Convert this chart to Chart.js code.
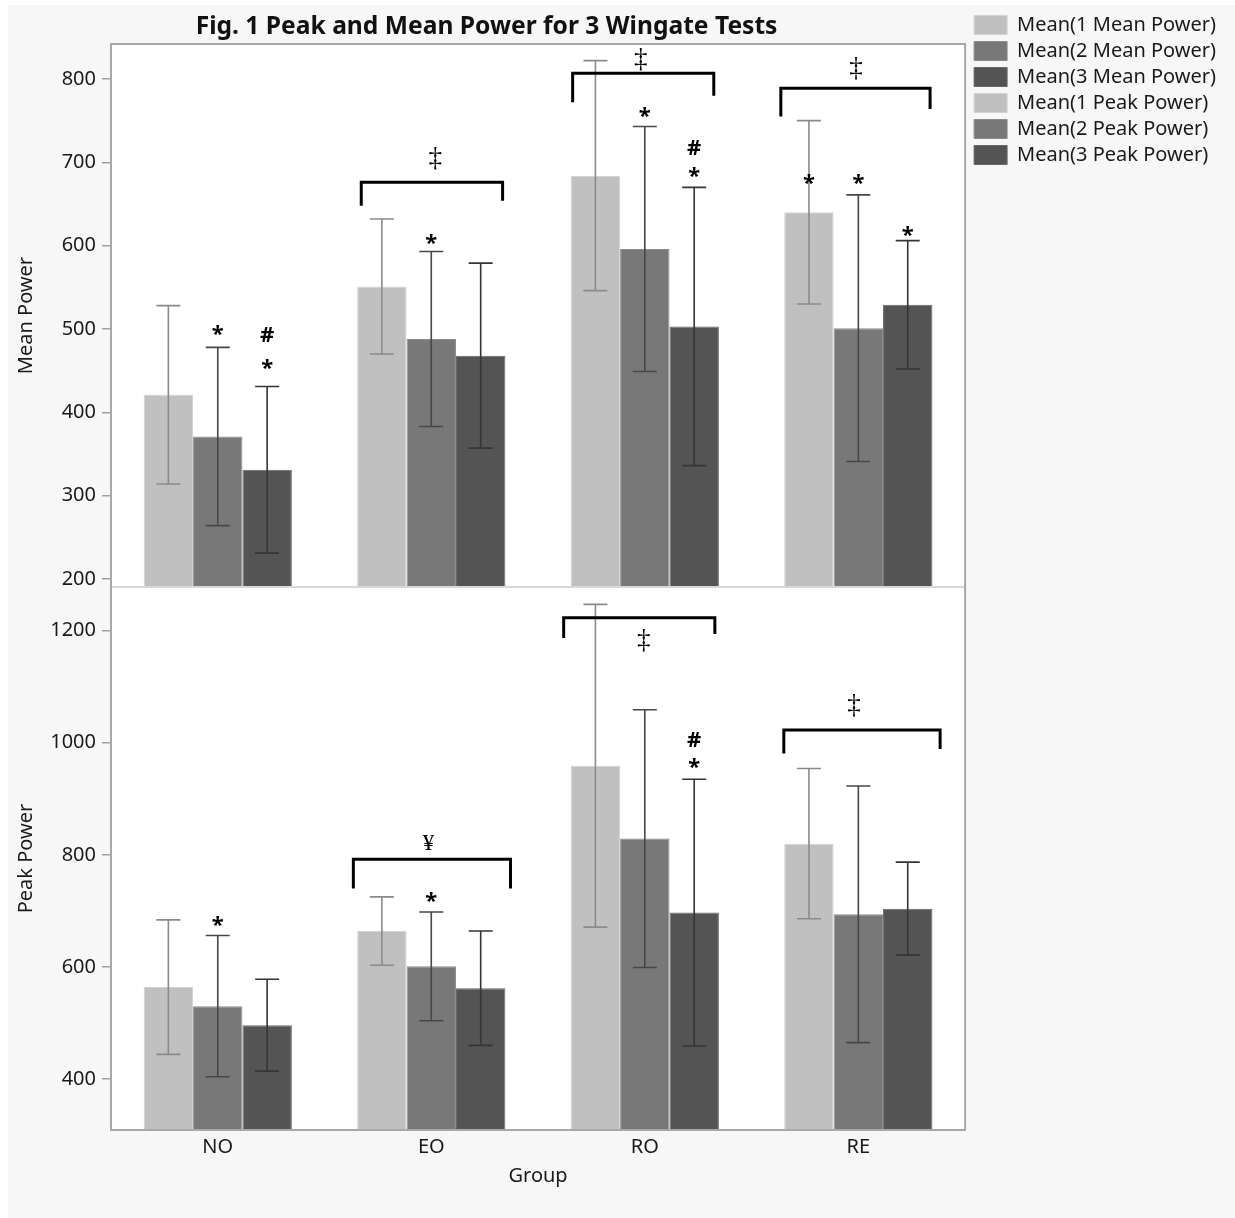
<!DOCTYPE html>
<html>
<head>
<meta charset="utf-8">
<script src="https://cdn.jsdelivr.net/npm/chart.js@4.4.1/dist/chart.umd.min.js"></script>
<style>
  html, body { margin: 0; padding: 0; background: #fff; }
  #wrap { position: relative; width: 1235px; height: 1218px; }
</style>
</head>
<body>
<div id="wrap"><canvas id="grafico" width="1235" height="1218"></canvas></div>
<script>
const titulo = 'Fig. 1 Peak and Mean Power for 3 Wingate Tests';
const categories = ['NO', 'EO', 'RO', 'RE'];
const seriesNames = ['Mean(1 Mean Power)', 'Mean(2 Mean Power)', 'Mean(3 Mean Power)',
                     'Mean(1 Peak Power)', 'Mean(2 Peak Power)', 'Mean(3 Peak Power)'];

// mean power (top panel)
const meanPower1 = [421, 551, 684, 640];
const meanPower2 = [371, 488, 596, 501];
const meanPower3 = [331, 468, 503, 529];
const meanPower1Sd = [107, 81, 138, 110];
const meanPower2Sd = [107, 105, 147, 160];
const meanPower3Sd = [100, 111, 167, 77];

// peak power (bottom panel)
const peakPower1 = [564, 664, 959, 820];
const peakPower2 = [530, 601, 829, 694];
const peakPower3 = [496, 562, 697, 704];
const peakPower1Sd = [120, 61, 288, 134];
const peakPower2Sd = [126, 97, 230, 229];
const peakPower3Sd = [82, 102, 238, 83];

const meanTicks = [200, 300, 400, 500, 600, 700, 800];
const peakTicks = [400, 600, 800, 1000, 1200];

// significance marks over bars: [dataset, category, value, symbol]
const marks = [
  [1, 0, 498, '*'], [2, 0, 493, '#'], [2, 0, 458, '*'],
  [1, 1, 607, '*'],
  [1, 2, 760, '*'], [2, 2, 718, '#'], [2, 2, 688, '*'],
  [0, 3, 680, '*'], [1, 3, 680, '*'], [2, 3, 617, '*'],
  [4, 0, 681, '*'],
  [4, 1, 724, '*'],
  [5, 2, 1005, '#'], [5, 2, 963, '*']
];

// brackets: [axis, from, to, level, left end, right end]
const brackets = [
  ['yMean', 0.672, 1.334, 676, 648, 654],
  ['yMean', 1.662, 2.323, 807, 772, 780],
  ['yMean', 2.637, 3.336, 789, 755, 764],
  ['yPeak', 0.635, 1.371, 792, 740, 740],
  ['yPeak', 1.620, 2.328, 1223, 1187, 1194],
  ['yPeak', 2.651, 3.383, 1023, 981, 989]
];

// symbols next to brackets: [axis, position, value, symbol]
const bracketMarks = [
  ['yMean', 1.019, 705, '\u2021'],
  ['yMean', 1.981, 823, '\u2021'],
  ['yMean', 2.989, 813, '\u2021'],
  ['yPeak', 0.987, 822, '\u00A5'],
  ['yPeak', 1.995, 1182, '\u2021'],
  ['yPeak', 2.980, 1066, '\u2021']
];

const cores = ['#c0c0c0', '#787878', '#545454'];
const bordas = ['#d2d2d2', '#8c8c8c', '#686868'];
const corErro = ['#8a8a8a', '#474747', '#353535'];

const valores = [meanPower1, meanPower2, meanPower3, peakPower1, peakPower2, peakPower3];
const desvios = [meanPower1Sd, meanPower2Sd, meanPower3Sd, peakPower1Sd, peakPower2Sd, peakPower3Sd];

const fonte = '"Noto Sans", "Open Sans", sans-serif';

function serie(i) {
  const k = i % 3;
  return {
    label: seriesNames[i],
    data: valores[i],
    backgroundColor: cores[k],
    borderColor: bordas[k],
    borderWidth: 1,
    yAxisID: i < 3 ? 'yMean' : 'yPeak',
    stack: 's' + k
  };
}

function eixoY(title, ticks, min, max) {
  return {
    type: 'linear',
    position: 'left',
    stack: 'paineis',
    stackWeight: 1,
    stacked: false,
    min, max,
    afterBuildTicks(s) { s.ticks = ticks.map(v => ({ value: v })); },
    afterFit(s) { s.width = 111; },
    grid: { display: true, drawOnChartArea: false, drawTicks: true, tickLength: 9, color: '#a0a0a0', lineWidth: 1.5 },
    border: { display: true, color: '#a8a8a8', width: 2 },
    ticks: { font: { family: fonte, size: 20 }, color: '#1a1a1a', padding: 6, callback: v => String(v) },
    title: { display: true, text: title, font: { family: fonte, size: 20 }, color: '#1a1a1a', padding: { top: 14, bottom: 0 } }
  };
}

function textoCentrado(ctx, txt, x, cy) {
  const m = ctx.measureText(txt);
  ctx.textBaseline = 'alphabetic';
  ctx.fillText(txt, x, cy + (m.actualBoundingBoxAscent - m.actualBoundingBoxDescent) / 2);
}

const extras = {
  id: 'extras',
  beforeDraw(chart) {
    const { ctx, chartArea: a } = chart;
    ctx.save();
    ctx.fillStyle = '#f7f7f7';
    ctx.fillRect(8, 5, chart.width - 8, chart.height - 5);
    ctx.fillStyle = '#ffffff';
    ctx.fillRect(a.left, a.top, a.width, a.height);
    ctx.restore();
  },
  afterLayout(chart) {
    const lg = chart.legend;
    const dy = 9 - lg.top;
    const dx = 3;
    lg.top += dy; lg.bottom += dy;
    lg.left += dx; lg.right += dx;
  },
  afterDatasetsDraw(chart) {
    const ctx = chart.ctx;
    ctx.save();
    chart.data.datasets.forEach((ds, i) => {
      const meta = chart.getDatasetMeta(i);
      const y = chart.scales[ds.yAxisID];
      ctx.strokeStyle = corErro[i % 3];
      ctx.lineWidth = 1.6;
      meta.data.forEach((bar, j) => {
        const hi = y.getPixelForValue(ds.data[j] + desvios[i][j]);
        const lo = y.getPixelForValue(ds.data[j] - desvios[i][j]);
        ctx.beginPath();
        ctx.moveTo(bar.x, hi); ctx.lineTo(bar.x, lo);
        ctx.moveTo(bar.x - 12, hi); ctx.lineTo(bar.x + 12, hi);
        ctx.moveTo(bar.x - 12, lo); ctx.lineTo(bar.x + 12, lo);
        ctx.stroke();
      });
    });
    ctx.restore();
  },
  afterDraw(chart) {
    const { ctx, chartArea: a, scales } = chart;
    const x = scales.x;
    ctx.save();
    // divider between panels
    ctx.strokeStyle = '#d8d8d8';
    ctx.lineWidth = 2;
    ctx.beginPath();
    ctx.moveTo(a.left, scales.yMean.bottom);
    ctx.lineTo(a.right, scales.yMean.bottom);
    ctx.stroke();
    // frame
    ctx.strokeStyle = '#a8a8a8';
    ctx.strokeRect(a.left, a.top, a.width, a.height);

    // brackets
    ctx.strokeStyle = '#000';
    ctx.lineWidth = 3;
    brackets.forEach(([ax, x0, x1, lvl, e0, e1]) => {
      const y = scales[ax];
      ctx.beginPath();
      ctx.moveTo(x.getPixelForValue(x0), y.getPixelForValue(e0));
      ctx.lineTo(x.getPixelForValue(x0), y.getPixelForValue(lvl));
      ctx.lineTo(x.getPixelForValue(x1), y.getPixelForValue(lvl));
      ctx.lineTo(x.getPixelForValue(x1), y.getPixelForValue(e1));
      ctx.stroke();
    });

    ctx.fillStyle = '#000';
    ctx.textAlign = 'center';
    bracketMarks.forEach(([ax, pos, v, t]) => {
      ctx.font = (t === '\u00A5' ? '23px' : '27px') + ' "Liberation Serif", serif';
      textoCentrado(ctx, t, x.getPixelForValue(pos), scales[ax].getPixelForValue(v));
    });

    ctx.font = 'bold 22px ' + fonte;
    marks.forEach(([d, c, v, t]) => {
      const ds = chart.data.datasets[d];
      const bar = chart.getDatasetMeta(d).data[c];
      textoCentrado(ctx, t, bar.x, scales[ds.yAxisID].getPixelForValue(v));
    });

    // title
    ctx.font = 'bold 24.6px ' + fonte;
    ctx.fillStyle = '#111';
    ctx.textBaseline = 'middle';
    ctx.fillText(titulo, (8 + a.right) / 2, 27);
    ctx.restore();
  }
};

const grafico = new Chart(document.getElementById('grafico'), {
  type: 'bar',
  data: {
    labels: categories,
    datasets: [0, 1, 2, 3, 4, 5].map(serie)
  },
  options: {
    responsive: false,
    animation: false,
    categoryPercentage: 0.694,
    barPercentage: 1,
    layout: { padding: { top: 44, left: 0, right: 12, bottom: 0 } },
    plugins: {
      legend: {
        position: 'right',
        align: 'start',
        maxWidth: 320,
        labels: {
          boxWidth: 33, boxHeight: 19, padding: 6,
          font: { family: fonte, size: 20 }, color: '#1a1a1a'
        }
      },
      title: { display: false },
      tooltip: { enabled: false }
    },
    scales: {
      x: {
        stacked: true,
        grid: { display: false, drawTicks: false },
        border: { display: false },
        ticks: { font: { family: fonte, size: 20 }, color: '#1a1a1a', padding: 5 },
        title: { display: true, text: 'Group', font: { family: fonte, size: 20 }, color: '#1a1a1a', padding: { top: 0, bottom: 30 } },
        afterFit(s) { s.height = 88; }
      },
      yPeak: eixoY('Peak Power', peakTicks, 309, 1278),
      yMean: eixoY('Mean Power', meanTicks, 190.4, 842)
    }
  },
  plugins: [extras]
});
</script>
</body>
</html>
